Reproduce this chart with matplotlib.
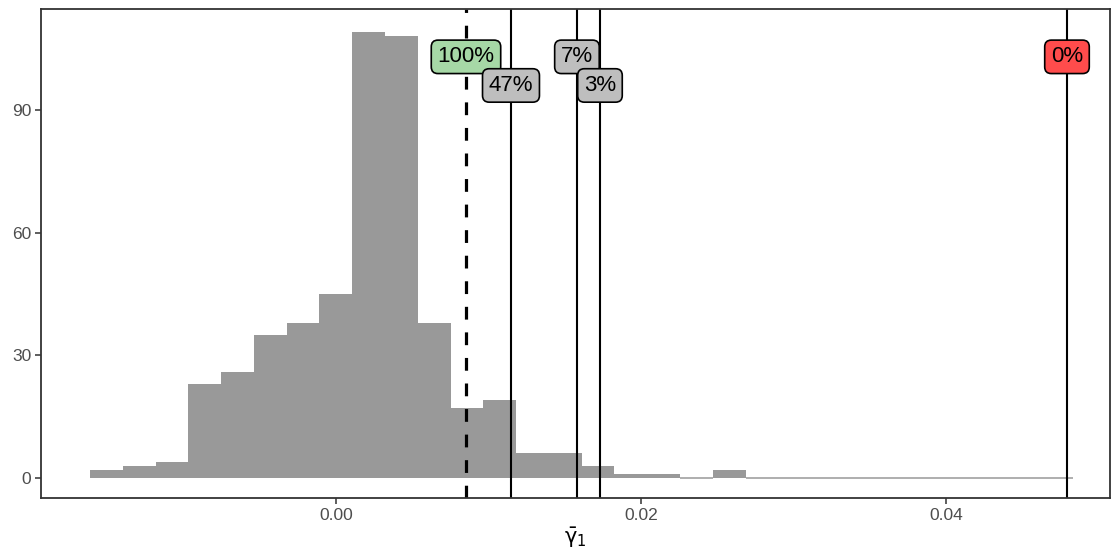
import matplotlib
matplotlib.use("Agg")
import matplotlib.pyplot as plt
import numpy as np

# histogram: 30 bins, counts
bin_start = -0.01613
bin_width = 0.0021494
counts = [2, 3, 4, 23, 26, 35, 38, 45, 109, 108,
          38, 17, 19, 6, 6, 3, 1, 1, 0, 2,
          0, 0, 0, 0, 0, 0, 0, 0, 0, 0]

# reference lines and their labels
observed_x = 0.008525
line_x = [0.011475, 0.0158, 0.01731, 0.04793]
label_x = [observed_x, 0.011475, 0.0158, 0.01731, 0.04793]
label_y = [103, 96, 103, 96, 103]
label_text = ["100%", "47%", "7%", "3%", "0%"]
label_fill = ["#A6D8A6", "#BEBEBE", "#BEBEBE", "#BEBEBE", "#FF4C4C"]

x_ticks = [0.00, 0.02, 0.04]
x_tick_labels = ["0.00", "0.02", "0.04"]
y_ticks = [0, 30, 60, 90]

plt.rcParams["font.family"] = ["Liberation Sans", "DejaVu Sans"]
plt.rcParams["mathtext.fontset"] = "dejavusans"

fig = plt.figure(figsize=(11.11, 5.5), dpi=100, facecolor="white")
ax = fig.add_axes([41 / 1111, 1 - 498 / 550, (1110 - 41) / 1111, (498 - 9) / 550])

edges = bin_start + bin_width * np.arange(len(counts))
counts = np.array(counts)
nz = counts > 0
ax.bar(edges[nz], counts[nz], width=bin_width, align="edge",
       color="#999999", edgecolor="none", zorder=1)
# zero-count bins show as a thin line, like ggplot
for e in edges[~nz]:
    ax.plot([e, e + bin_width], [0, 0], color="#999999", lw=1.1,
            solid_capstyle="butt", zorder=1)

ax.axvline(observed_x, color="black", lw=2.3, linestyle=(0, (4, 4)), zorder=2)
for xv in line_x:
    ax.axvline(xv, color="black", lw=1.5, zorder=2)

for xv, yv, t, c in zip(label_x, label_y, label_text, label_fill):
    ax.text(xv, yv, t, ha="center", va="center", fontsize=16, color="black",
            zorder=3,
            bbox=dict(boxstyle="round,pad=0.28,rounding_size=0.3",
                      facecolor=c, edgecolor="black", linewidth=1.2))

ax.set_xlim(-0.01934, 0.05075)
ax.set_ylim(-4.9, 114.7)
ax.set_xticks(x_ticks)
ax.set_xticklabels(x_tick_labels)
ax.set_yticks(y_ticks)
ax.tick_params(axis="both", colors="#333333", labelcolor="#4D4D4D",
               labelsize=12.5, length=4, width=1.1, pad=3)
for s in ax.spines.values():
    s.set_color("#333333")
    s.set_linewidth(1.3)

ax.set_xlabel(r"$\bar{\mathrm{\gamma}}_1$", fontsize=15, color="black", labelpad=2)

fig.savefig("out.png", dpi=100, facecolor="white")
